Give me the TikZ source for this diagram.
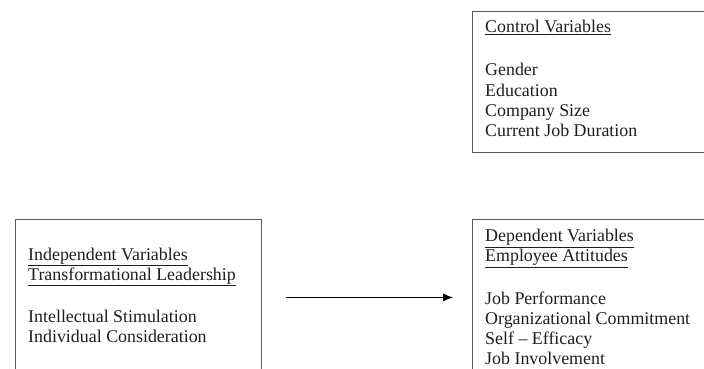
\documentclass[tikz,border=0pt]{standalone}
\usepackage{fontspec}
\setmainfont{Liberation Serif}
\usetikzlibrary{arrows.meta}
\definecolor{boxline}{HTML}{5A5A5A}
\definecolor{ink}{HTML}{1E1E1E}
\tikzset{
  box/.style={draw=boxline, line width=0.9pt, inner sep=0pt, anchor=north west},
  txt/.style={inner sep=0pt, anchor=base west, align=left, text=ink,
    font=\fontsize{17.9}{20}\selectfont},
  link/.style={draw=black, line width=0.9pt, -{Latex[length=10pt,width=8pt]}}
}
\begin{document}
\begin{tikzpicture}[x=1pt,y=-1pt]
\useasboundingbox (0,0) rectangle (704,369);
\clip (0,0) rectangle (704,369);
\node[box, minimum width=250pt, minimum height=141pt] (ctrl) at (472,11) {};
\node[box, minimum width=246pt, minimum height=156pt] (ind) at (15,219) {};
\node[box, minimum width=250pt, minimum height=156pt] (dep) at (472,219) {};
\node[txt, font=\fontsize{17.9}{20.3}\selectfont] (ctrltext) at (485,136.7)
  {\underline{Control Variables}\\[23pt]Gender\\Education\\Company Size\\Current Job Duration};
\node[txt] (indtext) at (28,342)
  {\underline{Independent Variables}\\\underline{Transformational Leadership}\\[22pt]Intellectual Stimulation\\Individual Consideration};
\node[txt] (deptext) at (485,364)
  {\underline{Dependent Variables}\\\underline{Employee Attitudes}\\[22.5pt]Job Performance\\Organizational Commitment\\Self – Efficacy\\Job Involvement};
\draw[link, shorten <=24pt, shorten >=19pt] (ind.east) -- (dep.west);
\end{tikzpicture}
\end{document}
